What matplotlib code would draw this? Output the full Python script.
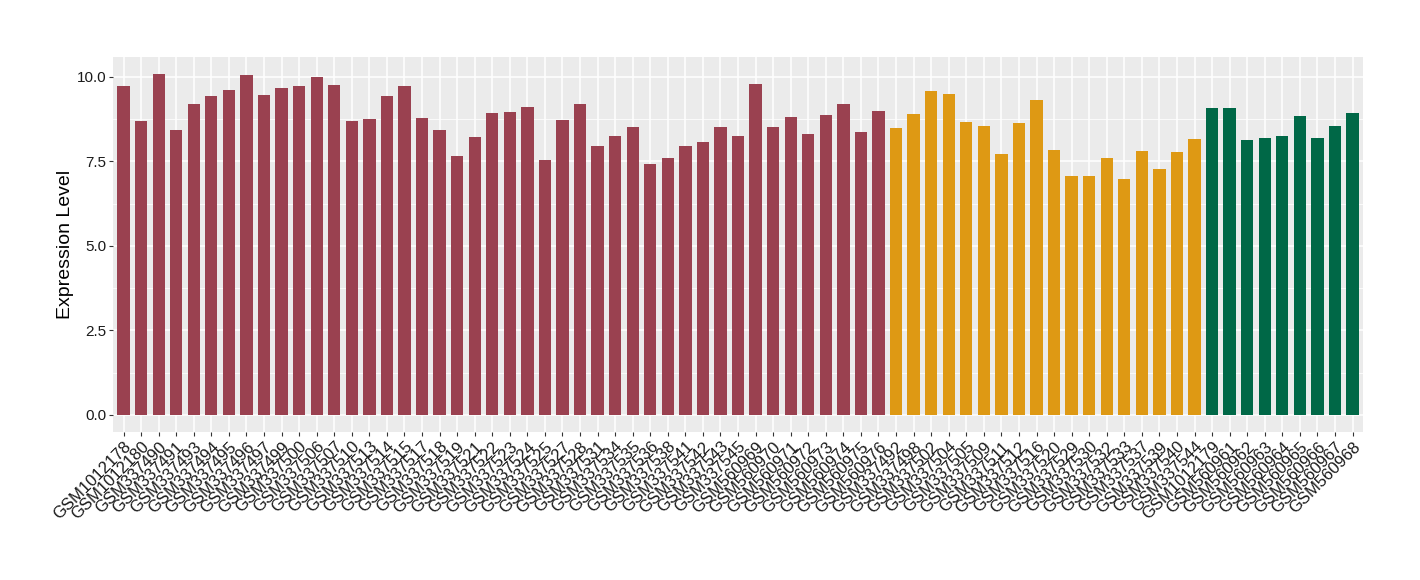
import matplotlib.pyplot as plt
import numpy as np

plt.rcParams['font.family'] = ['Liberation Sans', 'DejaVu Sans']

# 样本名称（按组）
group1 = ['GSM1012178', 'GSM1012180', 'GSM337490', 'GSM337491', 'GSM337493', 'GSM337494',
          'GSM337495', 'GSM337496', 'GSM337497', 'GSM337499', 'GSM337500', 'GSM337506',
          'GSM337507', 'GSM337510', 'GSM337513', 'GSM337514', 'GSM337515', 'GSM337517',
          'GSM337518', 'GSM337519', 'GSM337521', 'GSM337522', 'GSM337523', 'GSM337524',
          'GSM337525', 'GSM337527', 'GSM337528', 'GSM337531', 'GSM337534', 'GSM337535',
          'GSM337536', 'GSM337538', 'GSM337541', 'GSM337542', 'GSM337543', 'GSM337545',
          'GSM560969', 'GSM560970', 'GSM560971', 'GSM560972', 'GSM560973', 'GSM560974',
          'GSM560975', 'GSM560976']
group2 = ['GSM337492', 'GSM337498', 'GSM337502', 'GSM337504', 'GSM337505', 'GSM337509',
          'GSM337511', 'GSM337512', 'GSM337516', 'GSM337520', 'GSM337529', 'GSM337530',
          'GSM337532', 'GSM337533', 'GSM337537', 'GSM337539', 'GSM337540', 'GSM337544']
group3 = ['GSM1012179', 'GSM560961', 'GSM560962', 'GSM560963', 'GSM560964', 'GSM560965',
          'GSM560966', 'GSM560967', 'GSM560968']

# 表达值
values1 = [9.73, 8.70, 10.09, 8.43, 9.20, 9.44, 9.62, 10.06, 9.47, 9.67, 9.73, 10.00,
           9.76, 8.70, 8.76, 9.44, 9.73, 8.79, 8.43, 7.66, 8.22, 8.93, 8.96, 9.11,
           7.54, 8.73, 9.20, 7.96, 8.25, 8.52, 7.43, 7.60, 7.96, 8.08, 8.52, 8.25,
           9.79, 8.52, 8.82, 8.31, 8.88, 9.20, 8.37, 8.99]
values2 = [8.49, 8.91, 9.59, 9.50, 8.67, 8.55, 7.72, 8.64, 9.32, 7.84, 7.07, 7.07,
           7.60, 6.98, 7.81, 7.28, 7.78, 8.17]
values3 = [9.08, 9.08, 8.14, 8.20, 8.25, 8.85, 8.20, 8.55, 8.93]

colors = ['#9A4150', '#DE9914', '#006847']

labels = group1 + group2 + group3
values = values1 + values2 + values3
bar_colors = ([colors[0]] * len(values1) + [colors[1]] * len(values2)
              + [colors[2]] * len(values3))

x = np.arange(len(labels))

fig = plt.figure(figsize=(14.2, 5.8), dpi=100)
ax = fig.add_axes([0.0796, 0.2552, 0.8803, 0.6465])
ax.set_facecolor('#EBEBEB')

ax.bar(x, values, width=0.7, color=bar_colors, zorder=3)

ax.set_xlim(-0.6, len(labels) - 0.4)
ax.set_ylim(-0.504, 10.59)
ax.set_yticks([0, 2.5, 5, 7.5, 10])
ax.set_yticklabels(['0.0', '2.5', '5.0', '7.5', '10.0'], fontsize=11, color='#1A1A1A')
ax.set_yticks([1.25, 3.75, 6.25, 8.75], minor=True)
ax.set_xticks(x)
ax.set_xticklabels(labels, rotation=45, ha='right', va='top', fontsize=12,
                   rotation_mode='anchor', color='#1A1A1A')

ax.grid(which='major', color='white', linewidth=1.1, zorder=0)
ax.grid(which='minor', axis='y', color='white', linewidth=0.55, zorder=0)
ax.tick_params(which='major', length=3, color='#333333', width=0.8, pad=2)
ax.tick_params(which='minor', length=0)
for s in ax.spines.values():
    s.set_visible(False)

ax.set_ylabel('Expression Level', fontsize=14)
ax.yaxis.set_label_coords(-0.031, 0.5)

plt.savefig('out.png', dpi=100)
